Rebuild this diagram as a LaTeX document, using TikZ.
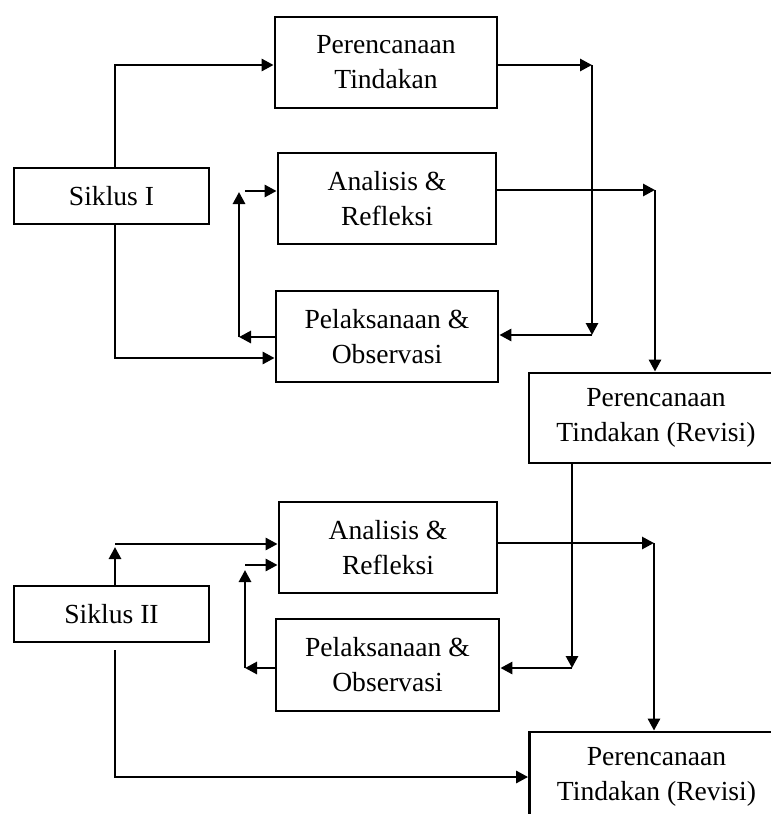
\documentclass[tikz,border=0pt]{standalone}
\usepackage{fontspec}
\setmainfont{Liberation Serif}
\usetikzlibrary{arrows.meta}
\tikzset{
  kotak/.style={draw, line width=2.8pt, inner sep=0pt, align=center,
    font=\fontsize{27.6}{35}\selectfont},
  garis/.style={line width=2.8pt},
  panah/.style={garis, -{Triangle[length=12pt,width=12pt]}}
}

\begin{document}
\begin{tikzpicture}[x=1pt,y=-1pt]
            \useasboundingbox (0,0) rectangle (771,814);
            % siklus I
            \node[kotak, minimum width=195pt, minimum height=56pt] (siklusA) at (111.5,196) {Siklus I};
            \node[kotak, minimum width=222pt, minimum height=91pt] (rencana) at (386,62.5) {Perencanaan\\Tindakan};
            \node[kotak, minimum width=218pt, minimum height=91pt] (analisisA) at (387,198.5) {Analisis \&\\Refleksi};
            \node[kotak, minimum width=222pt, minimum height=91pt] (pelaksanaanA) at (387,336.5) {Pelaksanaan \&\\Observasi};
            \node[kotak, minimum width=254pt, minimum height=90pt] (revisiA) at (656,418) {Perencanaan\\Tindakan (Revisi)};
            % siklus II
            \node[kotak, minimum width=195pt, minimum height=56pt] (siklusB) at (111.5,614) {Siklus II};
            \node[kotak, minimum width=218pt, minimum height=91pt] (analisisB) at (388,547.5) {Analisis \&\\Refleksi};
            \node[kotak, minimum width=223pt, minimum height=92pt] (pelaksanaanB) at (387.5,665) {Pelaksanaan \&\\Observasi};
            \node[kotak, minimum width=254pt, minimum height=90pt] (revisiB) at (656.5,777) {Perencanaan\\Tindakan (Revisi)};

            \coordinate (naikA) at (115,65);
            \coordinate (turunA) at (115,358);
            \coordinate (kiriA) at (239,337);
            \coordinate (atasA) at (239,192);
            \coordinate (mulaiA) at (245,191);
            \coordinate (kananA) at (592,65);
            \coordinate (bawahA) at (592,335);
            \coordinate (belokA) at (655,190);

            \coordinate (atasB) at (115,547);
            \coordinate (naikB) at (115,544);
            \coordinate (kiriB) at (245,668);
            \coordinate (puncakB) at (245,570);
            \coordinate (mulaiB) at (245,565);
            \coordinate (bawahB) at (572,668);
            \coordinate (belokB) at (654,543);
            \coordinate (turunB) at (115,650);

            % arus siklus I
            \draw[panah] (siklusA.north -| naikA) -- (naikA) -- (naikA -| rencana.west);
            \draw[panah] (siklusA.south -| turunA) -- (turunA) -- (turunA -| pelaksanaanA.west);
            \draw[panah] (kiriA -| pelaksanaanA.west) -- (kiriA);
            \draw[panah] (kiriA) -- (atasA);
            \draw[panah] (mulaiA) -- (mulaiA -| analisisA.west);
            \draw[panah] (kananA -| rencana.east) -- (kananA);
            \draw[panah] (kananA) -- (bawahA);
            \draw[panah] (bawahA) -- (bawahA -| pelaksanaanA.east);
            \draw[panah] (belokA -| analisisA.east) -- (belokA);
            \draw[panah] (belokA) -- (belokA |- revisiA.north);

            % arus siklus II
            \draw[panah] (revisiA.south -| bawahB) -- (bawahB);
            \draw[panah] (bawahB) -- (bawahB -| pelaksanaanB.east);
            \draw[panah] (siklusB.north -| atasB) -- (atasB);
            \draw[panah] (naikB) -- (naikB -| analisisB.west);
            \draw[panah] (kiriB -| pelaksanaanB.west) -- (kiriB);
            \draw[panah] (kiriB) -- (puncakB);
            \draw[panah] (mulaiB) -- (mulaiB -| analisisB.west);
            \draw[panah] (belokB -| analisisB.east) -- (belokB);
            \draw[panah] (belokB) -- (belokB |- revisiB.north);
            \draw[panah] (turunB) |- (turunB |- revisiB.west) -- (revisiB.west);
        \end{tikzpicture}
\end{document}
